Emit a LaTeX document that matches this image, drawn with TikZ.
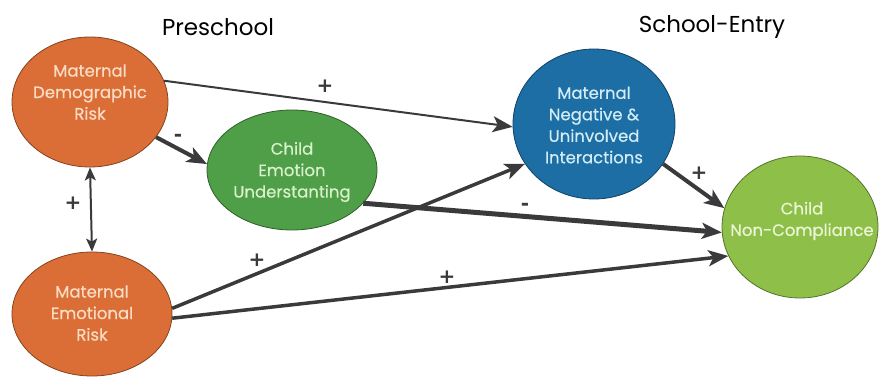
\documentclass[tikz,border=0pt]{standalone}
\usepackage{fontspec}
\setmainfont{Poppins}
\newfontfamily\nodefont{Poppins}[FakeBold=0.5]
\newfontfamily\signfont{DejaVu Sans}
\usetikzlibrary{arrows.meta,shapes.geometric}
\definecolor{orangeN}{HTML}{DB6E36}
\definecolor{orangeT}{HTML}{FADCC4}
\definecolor{blueN}{HTML}{1C6EA4}
\definecolor{blueT}{HTML}{D2ECF6}
\definecolor{greenA}{HTML}{4F9E48}
\definecolor{greenAT}{HTML}{DAF2CB}
\definecolor{greenB}{HTML}{8EBF48}
\definecolor{greenBT}{HTML}{EAF6D6}
\definecolor{lineC}{HTML}{3A3A3C}
\tikzset{
  oval/.style={ellipse, draw=#1!60!black, line width=0.8pt, fill=#1, inner sep=0pt},
  ntext/.style={align=center, font=\nodefont\fontsize{16.5}{21.5}\selectfont, inner sep=0pt},
  conn/.style={draw=lineC, line width=#1, -{Stealth[length=20pt,width=16pt,inset=5pt]}},
  sign/.style={text=lineC, inner sep=0pt, font=\signfont\bfseries\fontsize{20}{20}\selectfont},
  title/.style={text=black, font=\fontsize{23}{23}\selectfont}
}
\begin{document}
\begin{tikzpicture}[x=1pt,y=-1pt]
\useasboundingbox (0,0) rectangle (880,378);
\node[title] (t1) at (218,27) {Preschool};
\node[title] (t2) at (712,27) {School-Entry};

\node[oval=orangeN, minimum width=156pt, minimum height=130pt] (mdr) at (90,102) {};
\node[oval=orangeN, minimum width=160pt, minimum height=124pt] (mer) at (92,314) {};
\node[oval=greenA, minimum width=170pt, minimum height=120pt] (ceu) at (292,170) {};
\node[oval=blueN, minimum width=162pt, minimum height=150pt] (mnui) at (594,124) {};
\node[oval=greenB, minimum width=156pt, minimum height=142pt] (cnc) at (800,227) {};

\node[ntext, text=orangeT] (mdrT) at (90,92) {Maternal\\Demographic\\Risk};
\node[ntext, text=orangeT] (merT) at (92,313) {Maternal\\Emotional\\Risk};
\node[ntext, text=greenAT] (ceuT) at (292,172) {Child\\Emotion\\Understanting};
\node[ntext, text=blueT] (mnuiT) at (594,125) {Maternal\\Negative \&\\Uninvolved\\Interactions};
\node[ntext, text=greenBT] (cncT) at (802,221) {Child\\Non-Compliance};

\draw[conn=2pt] (mdr.16) -- (mnui.182);
\draw[conn=4pt] (mdr.-28) -- (ceu.176);
\draw[draw=lineC, line width=2pt, {Stealth[length=13pt,width=11pt,inset=3pt]}-{Stealth[length=13pt,width=11pt,inset=3pt]}] (mdr.south) -- (mer.north);
\draw[conn=5pt] (ceu.-25) -- (cnc.184);
\draw[conn=3.5pt] (mer.4) -- (mnui.210);
\draw[conn=3.5pt] (mer.-3) -- (cnc.202);
\draw[conn=4pt] (mnui.-30) -- (cnc.166);

\node[sign] (s1) at (325,86) {+};
\node[sign] (s2) at (178,138) {-};
\node[sign] (s3) at (73,203) {+};
\node[sign] (s4) at (257,260) {+};
\node[sign] (s5) at (525,207) {-};
\node[sign] (s6) at (447,277) {+};
\node[sign] (s7) at (699,173) {+};
\end{tikzpicture}
\end{document}
